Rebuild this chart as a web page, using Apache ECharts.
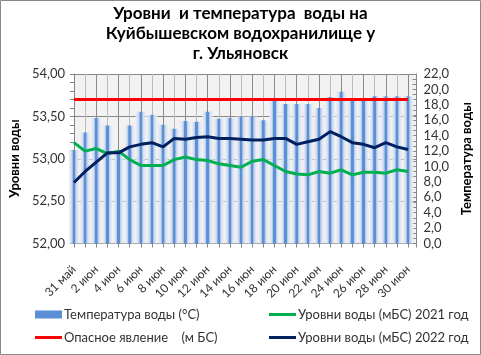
<!DOCTYPE html>
<html><head><meta charset="utf-8">
<script src="https://cdn.jsdelivr.net/npm/echarts@6/dist/echarts.min.js"></script>
<style>html,body{margin:0;padding:0;background:#fff}#c{width:481px;height:355px}</style>
</head><body><div id="c"></div><script>
const dates = ['31 май','1 июн','2 июн','3 июн','4 июн','5 июн','6 июн','7 июн','8 июн','9 июн','10 июн','11 июн','12 июн','13 июн','14 июн','15 июн','16 июн','17 июн','18 июн','19 июн','20 июн','21 июн','22 июн','23 июн','24 июн','25 июн','26 июн','27 июн','28 июн','29 июн','30 июн'];
const waterTemp = [12.1,14.4,16.3,15.3,12.1,15.3,17.1,16.7,15.4,14.9,15.9,15.8,17.1,16.2,16.3,16.5,16.5,16.0,18.5,18.1,18.1,18.1,17.6,19.0,19.7,18.5,18.5,19.1,19.1,19.1,19.1];
const dangerLevel = [53.70,53.70,53.70,53.70,53.70,53.70,53.70,53.70,53.70,53.70,53.70,53.70,53.70,53.70,53.70,53.70,53.70,53.70,53.70,53.70,53.70,53.70,53.70,53.70,53.70,53.70,53.70,53.70,53.70,53.70,53.70];
const level2021 = [53.19,53.09,53.12,53.06,53.09,52.99,52.92,52.92,52.92,52.99,53.02,52.99,52.98,52.94,52.92,52.90,52.97,52.99,52.92,52.85,52.82,52.81,52.85,52.83,52.87,52.81,52.84,52.84,52.83,52.87,52.85];
const level2022 = [52.72,52.85,52.96,53.07,53.07,53.14,53.17,53.19,53.14,53.24,53.23,53.25,53.26,53.24,53.24,53.23,53.22,53.22,53.24,53.24,53.17,53.20,53.23,53.32,53.26,53.19,53.17,53.13,53.19,53.14,53.11];
const levelTicks = {min:52, max:54, step:0.5};
const tempTicks = {min:0, max:22, step:2};
const names = ['Температура воды (°C)','Опасное явление    (м БС)','Уровни воды (мБС) 2021 год','Уровни воды (мБС) 2022 год'];

const FONT = 'Lato, "Noto Sans", "Liberation Sans", sans-serif';
const txt = '#333';
const axisGray = '#868686';
const barBlue = '#5b8fd6';
const pairs = arr => arr.map((v,i)=>[i,v]);

const chart = echarts.init(document.getElementById('c'), null, {renderer:'canvas'});
const barGrad = new echarts.graphic.LinearGradient(0,0,1,0,[
  {offset:0, color:'rgba(238,241,246,0.6)'},
  {offset:0.26, color:'#d3deef'},
  {offset:0.38, color:'#9fbae3'},
  {offset:0.40, color:barBlue},
  {offset:0.60, color:barBlue},
  {offset:0.62, color:'#9fbae3'},
  {offset:0.74, color:'#d3deef'},
  {offset:1, color:'rgba(238,241,246,0.6)'}
]);
const legendText = {fontFamily:FONT, fontSize:13, color:txt, padding:[0,0,0,-3]};
const mkLegend = (item, left, top, h) => ({left, top, padding:0, itemWidth:27, itemHeight:h, icon:'rect', textStyle:legendText, data:[item]});
chart.setOption({
  animation:false,
  textStyle:{fontFamily:FONT},
  title:{
    text:'Уровни  и температура  воды на\nКуйбышевском водохранилище у\nг. Ульяновск',
    left:'center', top:4, padding:0,
    textStyle:{fontFamily:FONT, fontSize:17, fontWeight:'bold', color:'#000', lineHeight:20}
  },
  graphic:[{type:'rect', shape:{x:0.5,y:0.5,width:480,height:354}, style:{fill:'none', stroke:'#888', lineWidth:1}, silent:true}],
  legend:[
    mkLegend({name:names[0], itemStyle:{color:barBlue}}, 35, 308, 8),
    mkLegend(names[1], 35, 331, 3),
    mkLegend(names[2], 269, 308, 3),
    mkLegend(names[3], 269, 331, 3)
  ],
  grid:{left:68, top:74, width:351, height:169.5, show:true, backgroundColor:'#f2f2f2', borderWidth:0, containLabel:false},
  xAxis:{
    type:'value', min:0, max:30.76, interval:1,
    axisLine:{show:true, lineStyle:{color:axisGray}},
    axisTick:{show:true, length:4, lineStyle:{color:axisGray}},
    axisLabel:{rotate:45, margin:24, fontSize:12, color:txt, fontFamily:FONT,
      formatter:v => (Number.isInteger(v) && v%2===0 && dates[v]) ? dates[v] : ''},
    splitLine:{show:true, lineStyle:{color:['#8a8a8a','#bcbcbc'], width:1}}
  },
  yAxis:[
    {type:'value', position:'left', min:levelTicks.min, max:levelTicks.max, interval:levelTicks.step,
     name:'Уровни воды', nameLocation:'middle', nameGap:51, nameRotate:90,
     nameTextStyle:{fontFamily:FONT, fontSize:13, fontWeight:'bold', color:'#000'},
     axisLine:{show:true, lineStyle:{color:axisGray}},
     axisTick:{show:true, length:4, lineStyle:{color:axisGray}},
     minorTick:{show:true, splitNumber:5, length:4, lineStyle:{color:axisGray}},
     axisLabel:{margin:9, fontSize:13, color:txt, fontFamily:FONT, formatter:v=>v.toFixed(2).replace('.',',')},
     splitLine:{show:true, lineStyle:{color:axisGray}}},
    {type:'value', position:'right', min:tempTicks.min, max:tempTicks.max, interval:tempTicks.step,
     name:'Температура воды', nameLocation:'middle', nameGap:42, nameRotate:90,
     nameTextStyle:{fontFamily:FONT, fontSize:13, fontWeight:'bold', color:'#000'},
     axisLine:{show:true, lineStyle:{color:axisGray}},
     axisTick:{show:true, inside:true, length:4, lineStyle:{color:axisGray}},
     minorTick:{show:true, splitNumber:3, length:4, lineStyle:{color:axisGray}},
     axisLabel:{margin:7, fontSize:13, color:txt, fontFamily:FONT, formatter:v=>v.toFixed(1).replace('.',',')},
     splitLine:{show:false}}
  ],
  series:[
    {name:names[0], type:'bar', yAxisIndex:1, barWidth:11, data:pairs(waterTemp),
     itemStyle:{color:barGrad}, z:1},
    {name:names[1], type:'line', yAxisIndex:0, data:pairs(dangerLevel), showSymbol:false, symbol:'none',
     lineStyle:{color:'#ff0000', width:3}, itemStyle:{color:'#ff0000'}, z:3},
    {name:names[2], type:'line', yAxisIndex:0, data:pairs(level2021), showSymbol:false, symbol:'none',
     lineStyle:{color:'#00b050', width:3}, itemStyle:{color:'#00b050'}, z:4},
    {name:names[3], type:'line', yAxisIndex:0, data:pairs(level2022), showSymbol:false, symbol:'none',
     lineStyle:{color:'#002060', width:3}, itemStyle:{color:'#002060'}, z:5}
  ]
});
</script></body></html>
